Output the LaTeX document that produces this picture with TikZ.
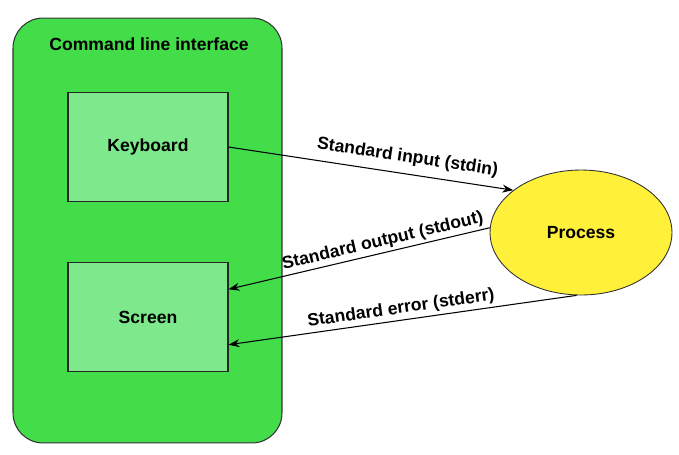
\documentclass[tikz,border=0pt]{standalone}
\usepackage{fontspec}
\setmainfont{Liberation Sans}
\usepackage{xcolor}
\usetikzlibrary{arrows.meta,shapes.geometric}
\definecolor{cligreen}{HTML}{44DD4A}
\definecolor{boxgreen}{HTML}{7EE88C}
\definecolor{procyel}{HTML}{FFF03A}
\tikzset{
  shell/.style={draw=black!80,fill=cligreen,rounded corners=0.6cm,minimum width=5.38cm,minimum height=8.5cm,line width=0.6pt},
  dev/.style={draw=black!85,fill=boxgreen,minimum width=3.2cm,minimum height=2.18cm,line width=0.6pt,font=\bfseries},
  proc/.style={ellipse,draw=black!80,fill=procyel,minimum width=3.64cm,minimum height=2.5cm,line width=0.5pt,font=\bfseries},
  strm/.style={line width=0.6pt,-{Stealth[length=2.2mm,width=1.6mm]}},
  lbl/.style={sloped,font=\bfseries}
}
\begin{document}
\begin{tikzpicture}[x=0.02cm,y=-0.02cm]
\useasboundingbox (0,0) rectangle (679,454);
\node[shell] (cli) at (147.5,230.5) {};
\node[font=\bfseries] (clititle) at (149,44) {Command line interface};
\node[dev] (kb) at (148,147) {Keyboard};
\node[dev] (scr) at (148,317) {Screen};
\node[proc] (proc) at (581,232.5) {Process};
\draw[strm] (kb.east) -- node[lbl,above=1pt,pos=0.62] (inlbl) {Standard input (stdin)} (proc.148);
\draw[strm] (proc.177) -- node[lbl,above=0pt,inner sep=1.5pt,pos=0.4] (outlbl) {Standard output (stdout)} (scr.19.6);
\draw[strm] (proc.266) -- node[lbl,above=0pt,inner sep=1.5pt,pos=0.5] (errlbl) {Standard error (stderr)} (scr.341.7);
\end{tikzpicture}
\end{document}
